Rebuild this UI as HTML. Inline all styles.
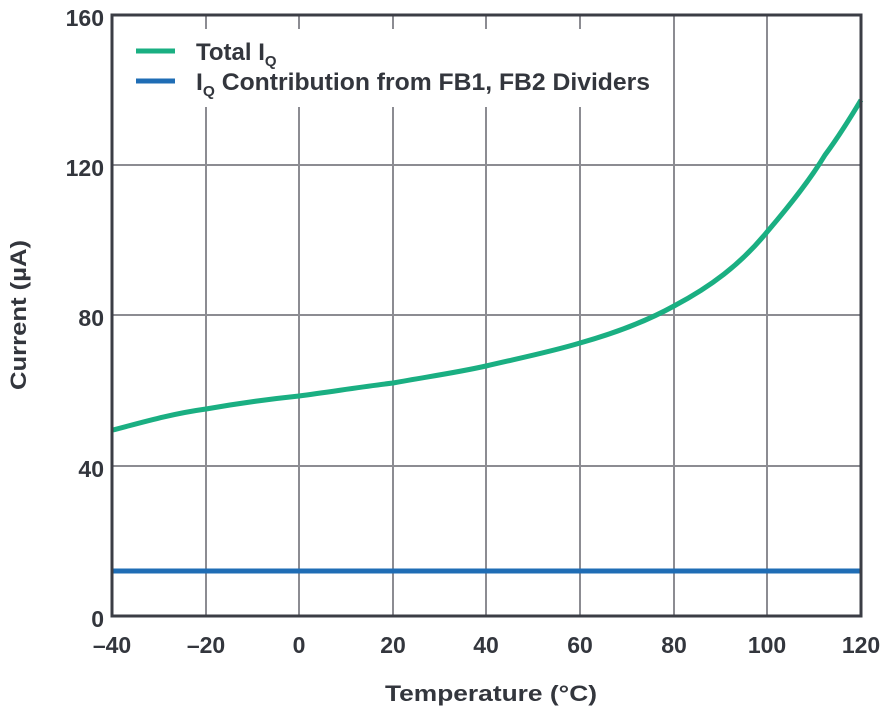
<!DOCTYPE html><html><head><style>body{margin:0;background:#fff}</style></head><body>
<svg width="892" height="715" xmlns="http://www.w3.org/2000/svg" font-family="Liberation Sans, sans-serif" font-weight="bold" fill="#33363d">
<g stroke="#8c8c92" stroke-width="2">
<line x1="206" y1="15" x2="206" y2="616"/><line x1="299" y1="15" x2="299" y2="616"/><line x1="393" y1="15" x2="393" y2="616"/><line x1="486" y1="15" x2="486" y2="616"/><line x1="580" y1="15" x2="580" y2="616"/><line x1="674" y1="15" x2="674" y2="616"/><line x1="767" y1="15" x2="767" y2="616"/>
<line x1="112" y1="165" x2="861" y2="165"/><line x1="112" y1="315" x2="861" y2="315"/><line x1="112" y1="466" x2="861" y2="466"/>
</g>
<rect x="124" y="29" width="540" height="78" fill="#fff"/>
<path d="M113,430 C140,423 170,414 206,409 C240,403 270,399 299,396 C330,392 360,387 393,383 C425,377 455,373 486,366 C520,358 550,352 580,343 C615,333 645,322 674,306 C710,287 740,265 767,232 C790,205 810,180 825,155 C840,135 852,115 861,100" fill="none" stroke="#1aaf82" stroke-width="5"/>
<line x1="113" y1="571" x2="861" y2="571" stroke="#1f6db5" stroke-width="5"/>
<rect x="112" y="15" width="749" height="601" fill="none" stroke="#3b3d45" stroke-width="3"/>
<line x1="136" y1="51" x2="175" y2="51" stroke="#1aaf82" stroke-width="5"/>
<line x1="136" y1="81" x2="175" y2="81" stroke="#1f6db5" stroke-width="5"/>
<text x="196" y="60" font-size="24">Total I<tspan font-size="15" dy="6">Q</tspan></text>
<text x="196" y="90" font-size="24" textLength="454" lengthAdjust="spacingAndGlyphs">I<tspan font-size="15" dy="6">Q</tspan><tspan dy="-6"> Contribution from FB1, FB2 Dividers</tspan></text>
<g font-size="23" text-anchor="end">
<text x="104" y="26">160</text><text x="104" y="176">120</text><text x="104" y="326">80</text><text x="104" y="477">40</text><text x="104" y="627">0</text>
</g>
<g font-size="23" text-anchor="middle">
<text x="112" y="653">–40</text><text x="206" y="653">–20</text><text x="299" y="653">0</text><text x="393" y="653">20</text><text x="486" y="653">40</text><text x="580" y="653">60</text><text x="674" y="653">80</text><text x="767" y="653">100</text><text x="861" y="653">120</text>
<text x="491" y="701" font-size="22" textLength="212" lengthAdjust="spacingAndGlyphs">Temperature (°C)</text>
<text transform="translate(26,315) rotate(-90)" font-size="22" textLength="150" lengthAdjust="spacingAndGlyphs">Current (µA)</text>
</g>
</svg>
</body></html>
